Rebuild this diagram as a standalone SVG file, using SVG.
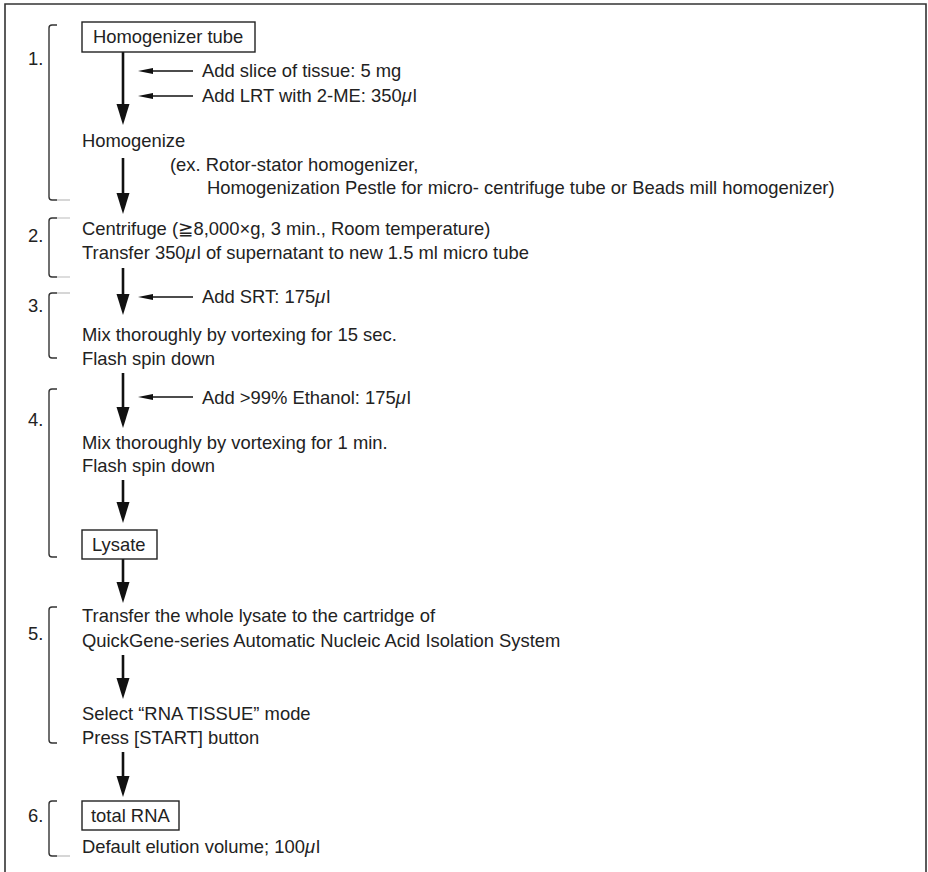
<svg xmlns="http://www.w3.org/2000/svg" width="928" height="872" viewBox="0 0 928 872">
<style>
text{font-family:"Liberation Sans","DejaVu Sans",Arial,sans-serif;font-size:18.4px;fill:#222}
.mu{font-style:italic}
.box{fill:#fff;stroke:#222;stroke-width:1.4}
.br{fill:none;stroke:#333;stroke-width:1.4}
.brx{fill:none;stroke:#bbb;stroke-width:1.2}
.main{stroke:#111;stroke-width:2.6;fill:none}
.side{stroke:#111;stroke-width:1.3;fill:none}
.frame{fill:none;stroke:#333;stroke-width:1.6}
</style>
<defs>
<marker id="bigHead" markerUnits="userSpaceOnUse" markerWidth="22" markerHeight="14" refX="0" refY="6.5" orient="auto">
<path d="M0,0 L21,6.5 L0,13 Z" fill="#111"/>
</marker>
<marker id="smallHead" markerUnits="userSpaceOnUse" markerWidth="16" markerHeight="7" refX="0" refY="3" orient="auto">
<path d="M0,0 L15,3 L0,6 Z" fill="#111"/>
</marker>
</defs>
<rect width="928" height="872" fill="#fff"/>
<path class="frame" d="M5,872 V4 H926 V872"/>

<g id="brackets">
<path class="br" d="M57,25 H52 Q49,25 49,28 V197 Q49,200 52,200 H57"/>
<path class="brx" d="M57,200 H70"/>
<path class="br" d="M57,218 H52 Q49,218 49,221 V274 Q49,277 52,277 H57"/>
<path class="brx" d="M57,218 H70 M57,277 H70"/>
<path class="br" d="M57,293 H52 Q49,293 49,296 V355 Q49,358 52,358 H57"/>
<path class="brx" d="M57,293 H70"/>
<path class="br" d="M57,389 H52 Q49,389 49,392 V554 Q49,557 52,557 H57"/>
<path class="br" d="M57,607 H52 Q49,607 49,610 V740 Q49,743 52,743 H57"/>
<path class="br" d="M57,801 H52 Q49,801 49,804 V853 Q49,856 52,856 H57"/>
<path class="brx" d="M57,856 H70"/>
<text x="28" y="65">1.</text>
<text x="28" y="242">2.</text>
<text x="28" y="312">3.</text>
<text x="28" y="426">4.</text>
<text x="28" y="640">5.</text>
<text x="28" y="822">6.</text>
</g>

<g id="connectors">
<line class="main" x1="123" y1="52" x2="123" y2="104" marker-end="url(#bigHead)"/>
<line class="main" x1="123" y1="158" x2="123" y2="193" marker-end="url(#bigHead)"/>
<line class="main" x1="123" y1="268" x2="123" y2="294" marker-end="url(#bigHead)"/>
<line class="main" x1="123" y1="373" x2="123" y2="407" marker-end="url(#bigHead)"/>
<line class="main" x1="123" y1="480" x2="123" y2="502" marker-end="url(#bigHead)"/>
<line class="main" x1="123" y1="559" x2="123" y2="582" marker-end="url(#bigHead)"/>
<line class="main" x1="123" y1="655" x2="123" y2="678" marker-end="url(#bigHead)"/>
<line class="main" x1="123" y1="752" x2="123" y2="776" marker-end="url(#bigHead)"/>
<line class="side" x1="193" y1="71" x2="153" y2="71" marker-end="url(#smallHead)"/>
<line class="side" x1="193" y1="96" x2="153" y2="96" marker-end="url(#smallHead)"/>
<line class="side" x1="193" y1="297" x2="153" y2="297" marker-end="url(#smallHead)"/>
<line class="side" x1="193" y1="397" x2="153" y2="397" marker-end="url(#smallHead)"/>
</g>

<g id="homogenizer-tube">
<rect class="box" x="82" y="22" width="173" height="30"/>
<text x="93" y="43">Homogenizer tube</text>
</g>
<g id="add-tissue"><text x="202" y="77">Add slice of tissue: 5 mg</text></g>
<g id="add-lrt"><text x="202" y="102">Add LRT with 2-ME: 350<tspan class="mu">μ</tspan><tspan dx="1">l</tspan></text></g>
<g id="homogenize">
<text x="82" y="147">Homogenize</text>
<text x="170" y="171">(ex. Rotor-stator homogenizer,</text>
<text x="207" y="194">Homogenization Pestle for micro- centrifuge tube or Beads mill homogenizer)</text>
</g>
<g id="centrifuge">
<text x="82" y="235">Centrifuge (≧8,000×g, 3 min., Room temperature)</text>
<text x="82" y="259">Transfer 350<tspan class="mu">μ</tspan><tspan dx="1">l</tspan> of supernatant to new 1.5 ml micro tube</text>
</g>
<g id="add-srt"><text x="202" y="303">Add SRT: 175<tspan class="mu">μ</tspan><tspan dx="1">l</tspan></text></g>
<g id="mix1">
<text x="82" y="341">Mix thoroughly by vortexing for 15 sec.</text>
<text x="82" y="365">Flash spin down</text>
</g>
<g id="add-ethanol"><text x="202" y="404">Add &gt;99% Ethanol: 175<tspan class="mu">μ</tspan><tspan dx="1">l</tspan></text></g>
<g id="mix2">
<text x="82" y="449">Mix thoroughly by vortexing for 1 min.</text>
<text x="82" y="472">Flash spin down</text>
</g>
<g id="lysate">
<rect class="box" x="82" y="530" width="75" height="29"/>
<text x="92" y="551">Lysate</text>
</g>
<g id="transfer">
<text x="82" y="622">Transfer the whole lysate to the cartridge of</text>
<text x="82" y="647">QuickGene-series Automatic Nucleic Acid Isolation System</text>
</g>
<g id="select-mode">
<text x="82" y="720">Select “RNA TISSUE” mode</text>
<text x="82" y="744">Press [START] button</text>
</g>
<g id="total-rna">
<rect class="box" x="82" y="801" width="97" height="29"/>
<text x="91" y="822">total RNA</text>
<text x="82" y="853">Default elution volume; 100<tspan class="mu">μ</tspan><tspan dx="1">l</tspan></text>
</g>
</svg>
